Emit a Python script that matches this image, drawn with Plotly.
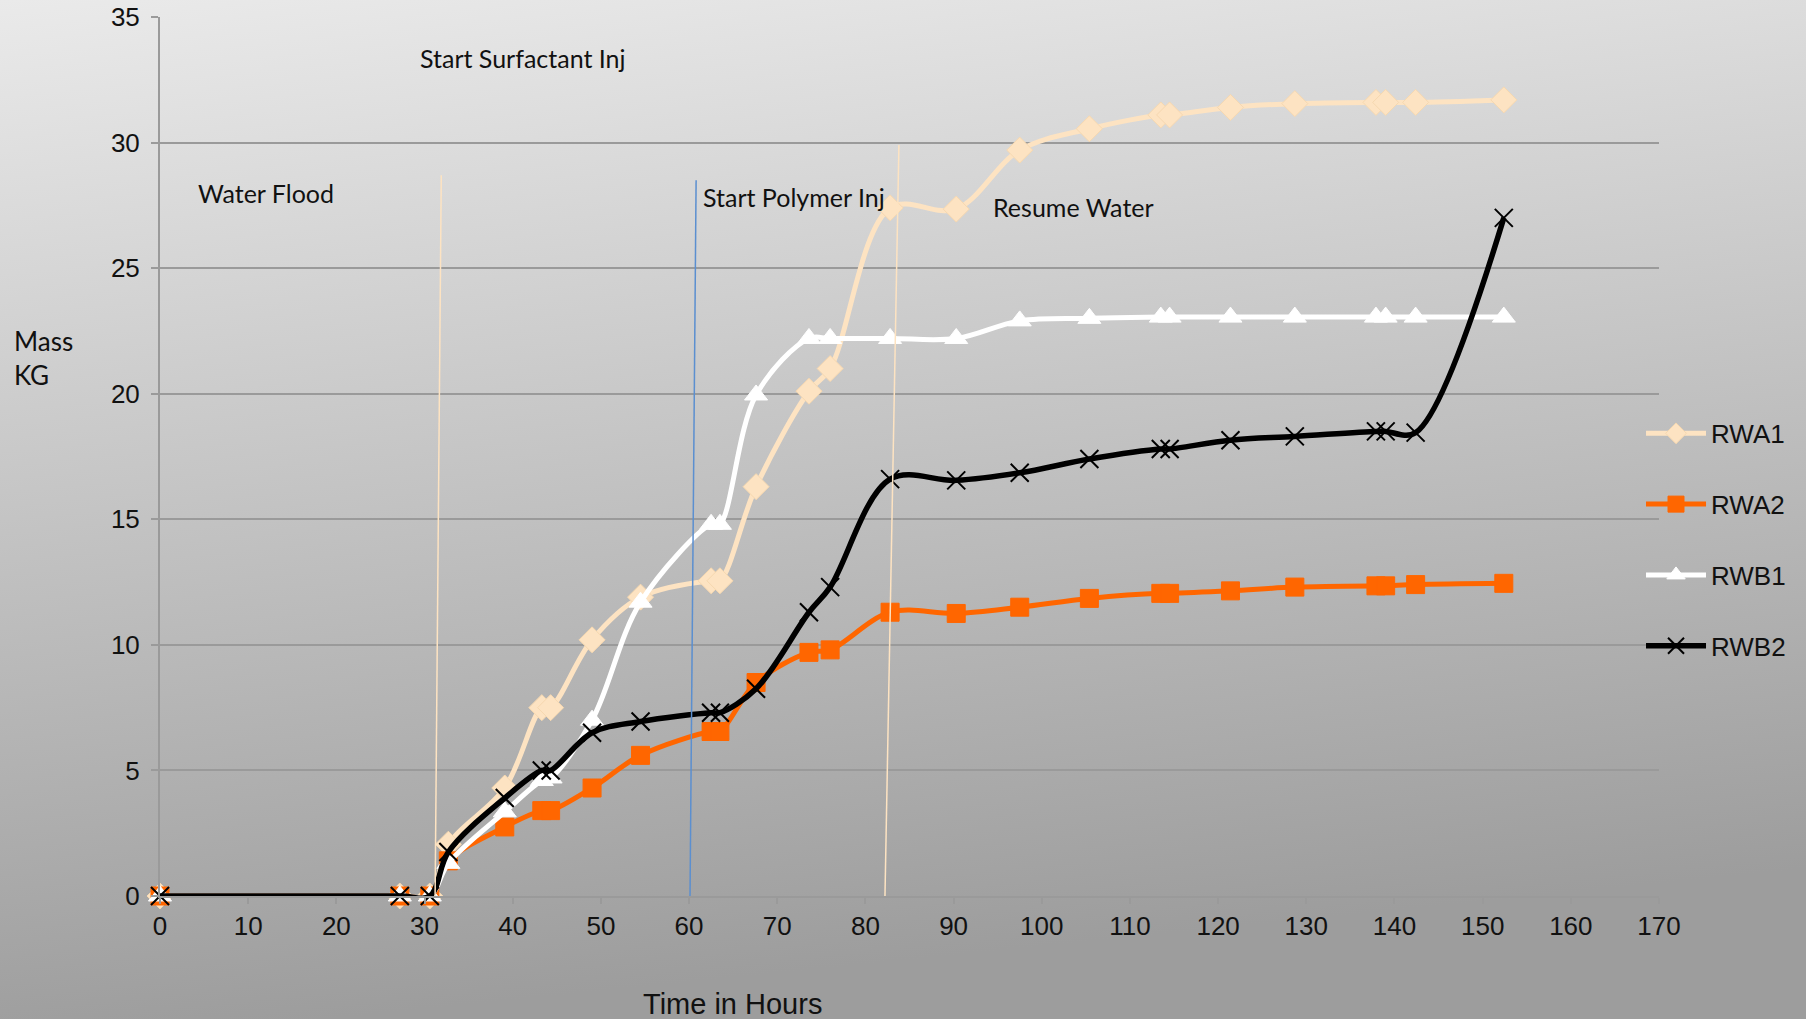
import base64
import plotly.graph_objects as go

# ---------------- data ----------------
time_h = [0, 27.2, 30.6, 32.7, 39.1, 43.3, 44.3, 49.0, 54.5, 62.5, 63.5, 67.6,
          73.6, 76.0, 82.8, 90.3, 97.5, 105.4, 113.5, 114.5, 121.4, 128.7,
          137.9, 139.0, 142.4, 152.4]

rwa1 = [0, 0, 0, 2.06, 4.3, 7.5, 7.5, 10.2, 11.9, 12.55, 12.55, 16.3,
        20.1, 21.0, 27.4, 27.35, 29.7, 30.55, 31.1, 31.1, 31.4, 31.55,
        31.6, 31.6, 31.6, 31.7]
rwa2 = [0, 0, 0, 1.4, 2.75, 3.4, 3.4, 4.3, 5.6, 6.55, 6.55, 8.5,
        9.7, 9.8, 11.3, 11.25, 11.5, 11.85, 12.05, 12.05, 12.15, 12.3,
        12.35, 12.35, 12.4, 12.45]
rwb1 = [0, 0, 0, 1.3, 3.35, 4.6, 4.7, 7.0, 11.7, 14.8, 14.8, 19.95,
        22.2, 22.2, 22.2, 22.2, 22.9, 23.0, 23.05, 23.05, 23.05, 23.05,
        23.05, 23.05, 23.05, 23.05]
rwb2 = [0, 0, 0, 1.75, 3.9, 5.0, 5.0, 6.5, 6.95, 7.3, 7.3, 8.25,
        11.3, 12.3, 16.6, 16.55, 16.85, 17.4, 17.8, 17.8, 18.15, 18.3,
        18.5, 18.5, 18.45, 27.0]

series_names = ["RWA1", "RWA2", "RWB1", "RWB2"]
series_values = [rwa1, rwa2, rwb1, rwb2]

x_ticks = list(range(0, 171, 10))
y_ticks = list(range(0, 36, 5))

# phase marker lines (drawn slightly slanted as in the original)
event_x_top = [31.9, 60.8, 83.8]
event_y_top = [28.7, 28.5, 29.9]
event_x_bottom = [31.2, 60.1, 82.2]
event_y_bottom = [0.0, -0.35, -0.35]

phase_labels = ["Water Flood", "Start Surfactant Inj", "Start Polymer Inj", "Resume Water"]
phase_label_x = [4.05, 29.25, 61.4, 94.2]
phase_label_y = [28.0, 33.37, 27.84, 27.43]

# ---------------- styles ----------------
styles = {
    "RWA1": dict(line=dict(color="#fde3c2", width=5),
                 marker=dict(symbol="diamond", size=20, color="#fde3c2",
                             line=dict(color="#f6d8b0", width=1))),
    "RWA2": dict(line=dict(color="#ff6600", width=5),
                 marker=dict(symbol="square", size=18, color="#ff6600",
                             line=dict(color="#ff6600", width=1))),
    "RWB1": dict(line=dict(color="#ffffff", width=5),
                 marker=dict(symbol="triangle-up", size=20, color="#ffffff",
                             line=dict(color="#ffffff", width=1))),
    "RWB2": dict(line=dict(color="#000000", width=5.5),
                 marker=dict(symbol="x-thin", size=18, color="#000000",
                             line=dict(color="#000000", width=2))),
}
event_colors = ["#fde3c2", "#5b8fd0", "#fde3c2"]

fig = go.Figure()
for name, vals in zip(series_names, series_values):
    st = styles[name]
    fig.add_trace(go.Scatter(
        x=time_h, y=vals, name=name, mode="lines+markers",
        line=dict(shape="spline", smoothing=1.0, **st["line"]),
        marker=st["marker"], cliponaxis=False, legendgroup=name,
    ))

for xt, yt, xb, yb, c in zip(event_x_top, event_y_top, event_x_bottom, event_y_bottom, event_colors):
    fig.add_shape(type="line", xref="x", yref="y", x0=xb, y0=yb, x1=xt, y1=yt,
                  line=dict(color=c, width=1.5), layer="above")

for t, lx, ly in zip(phase_labels, phase_label_x, phase_label_y):
    fig.add_annotation(x=lx, y=ly, xref="x", yref="y", text=t, showarrow=False,
                       xanchor="left", yanchor="middle",
                       font=dict(family="Lato", size=25, color="#111111"))

# axis titles as annotations
fig.add_annotation(x=-0.099, y=0.612, xref="paper", yref="paper", text="Mass<br>KG",
                   showarrow=False, xanchor="left", yanchor="middle", align="left",
                   font=dict(family="Lato", size=26, color="#111111"))
fig.add_annotation(x=0.382, y=-0.1229, xref="paper", yref="paper", text="Time in Hours",
                   showarrow=False, xanchor="center", yanchor="middle",
                   font=dict(family="Liberation Sans", size=29, color="#111111"))

# gradient background
svg = ("<svg xmlns='http://www.w3.org/2000/svg' width='1806' height='1019' "
       "preserveAspectRatio='none' viewBox='0 0 1806 1019'>"
       "<defs><linearGradient id='g' x1='0' y1='0' x2='0.18' y2='1'>"
       "<stop offset='0' stop-color='#eaeaea'/><stop offset='1' stop-color='#9d9d9d'/>"
       "</linearGradient></defs><rect width='1806' height='1019' fill='url(#g)'/></svg>")
uri = "data:image/svg+xml;base64," + base64.b64encode(svg.encode()).decode()

W, H = 1806, 1019
L, R, T, B = 160, 147, 17, 123
pw, ph = W - L - R, H - T - B
fig.add_layout_image(source=uri, xref="paper", yref="paper",
                     x=-L / pw, y=1 + T / ph, sizex=W / pw, sizey=H / ph,
                     xanchor="left", yanchor="top", sizing="stretch", layer="below")

axis_col = "#9a9a9a"
fig.update_layout(
    width=W, height=H,
    margin=dict(l=L, r=R, t=T, b=B, pad=0, autoexpand=False),
    paper_bgcolor="#c8c8c8", plot_bgcolor="rgba(0,0,0,0)",
    font=dict(family="Liberation Sans", size=26, color="#111111"),
    showlegend=True,
    legend=dict(x=0.988, y=0.553, xanchor="left", yanchor="top",
                bgcolor="rgba(0,0,0,0)", traceorder="grouped", tracegroupgap=34,
                itemwidth=60, font=dict(family="Liberation Sans", size=26, color="#111111")),
    xaxis=dict(range=[0, 170], tickvals=x_ticks, showgrid=False, zeroline=False,
               showline=True, linecolor=axis_col, linewidth=2, automargin=False,
               ticks="outside", ticklen=6, tickwidth=2, tickcolor=axis_col,
               tickfont=dict(size=26)),
    yaxis=dict(range=[0, 35], tickvals=y_ticks, showgrid=True, gridcolor=axis_col,
               gridwidth=2, zeroline=False, showline=True, linecolor=axis_col,
               linewidth=2, ticks="outside", ticklen=7, tickwidth=2, tickcolor=axis_col,
               ticklabelstandoff=6, automargin=False, tickfont=dict(size=26)),
)

fig.write_html("out.html")
